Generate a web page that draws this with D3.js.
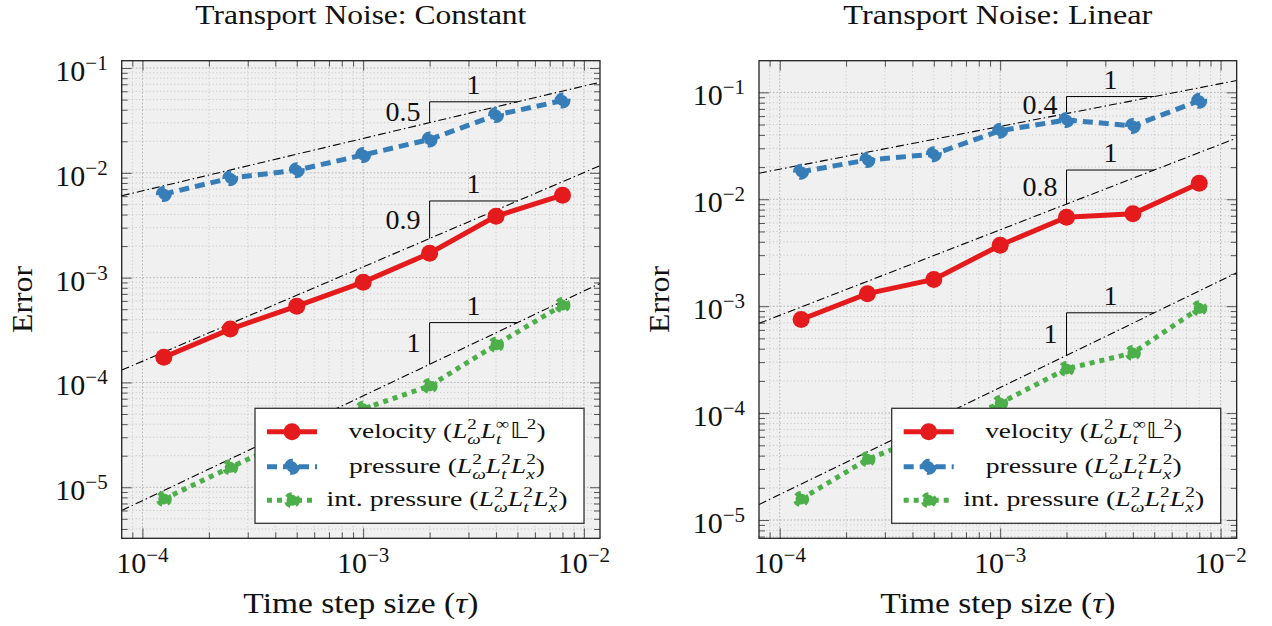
<!DOCTYPE html>
<html><head><meta charset="utf-8">
<script src="https://cdn.jsdelivr.net/npm/d3@7"></script>
<style>
body{margin:0;background:#fff}
svg text{font-family:"Liberation Serif","Times New Roman",serif;fill:#111}
</style>
</head><body>
<svg id="chart" width="1272" height="626" font-family="Liberation Serif"></svg>
<script>
// ---------- data ----------
const steps = [1.25e-4, 2.5e-4, 5e-4, 1e-3, 2e-3, 4e-3, 8e-3];
const titles = ["Transport Noise: Constant", "Transport Noise: Linear"];
const seriesNames = ["velocity", "pressure", "int. pressure"];
const constVelocity    = [1.74e-4, 3.23e-4, 5.34e-4, 9.06e-4, 1.71e-3, 3.86e-3, 6.12e-3];
const constPressure    = [6.27e-3, 8.9e-3, 1.06e-2, 1.48e-2, 2.08e-2, 3.56e-2, 4.89e-2];
const constIntPressure = [7.73e-6, 1.55e-5, 3.0e-5, 5.6e-5, 9.27e-5, 2.29e-4, 5.47e-4];
const linVelocity      = [7.51e-4, 1.31e-3, 1.78e-3, 3.72e-3, 6.8e-3, 7.31e-3, 1.41e-2];
const linPressure      = [1.81e-2, 2.33e-2, 2.64e-2, 4.38e-2, 5.52e-2, 4.85e-2, 8.35e-2];
const linIntPressure   = [1.57e-5, 3.7e-5, 6.5e-5, 1.24e-4, 2.59e-4, 3.65e-4, 9.55e-4];
// reference slopes: rate, value of the reference line at tau = 1e-3, label
const constRates = [0.5, 0.9, 1];
const constRefAt1e3 = [2.13e-2, 1.266e-3, 7.45e-5];
const constRateLabels = ["0.5", "0.9", "1"];
const linRates = [0.4, 0.8, 1];
const linRefAt1e3 = [4.8e-2, 5.18e-3, 1.734e-4];
const linRateLabels = ["0.4", "0.8", "1"];
const triangleX = [2e-3, 5e-3];
const xMajorExps = [-4, -3, -2];
const yMajorExps = [-5, -4, -3, -2, -1];
const xDomain = [Math.pow(10, -4.094), Math.pow(10, -1.927)];
const yDomainConst = [Math.pow(10, -5.487), Math.pow(10, -0.930)];
const yDomainLin = [Math.pow(10, -5.171), Math.pow(10, -0.704)];

// ---------- styles ----------
const colors = ["#e41a1c", "#377eb8", "#4daf4a"];
const dashes = [null, "10,6", "5,5"];
const legendTextLen = [197, 196, 241];

const svg = d3.select("#chart");

function writeMath(text, items, fs) {
  const sfs = fs * 0.7, up = fs * 0.4, down = fs * 0.26;
  let carry = 0; const fixes = []; let lastFix = null;
  items.forEach(it => {
    const main = text.append("tspan").text(it.t).attr("font-style", it.it ? "italic" : "normal");
    if (carry) main.attr("dy", carry);
    carry = 0;
    if (lastFix) { lastFix.next = main; lastFix = null; }
    if (it.sup !== undefined || it.sub !== undefined) {
      const f = {};
      if (it.sup !== undefined) {
        f.sup = text.append("tspan").attr("dy", -up).attr("font-size", sfs).attr("font-style", "normal").text(it.sup);
        carry = up;
      }
      if (it.sub !== undefined) {
        f.sub = text.append("tspan").attr("dy", (it.sup !== undefined ? up : 0) + down)
          .attr("font-size", sfs).attr("font-style", "italic").text(it.sub);
        carry = -down;
      }
      if (f.sup && f.sub) { fixes.push(f); lastFix = f; }
    }
  });
  fixes.forEach(f => {
    const ws = f.sup.node().getComputedTextLength(), wb = f.sub.node().getComputedTextLength();
    f.sub.attr("dx", -ws);
    if (f.next && ws > wb) f.next.attr("dx", ws - wb);
  });
}

function powLabel(sel, exp) {
  sel.append("tspan").text("10");
  sel.append("tspan").attr("dy", -11).attr("font-size", 21).text("\u2212" + Math.abs(exp));
}

function drawMarker(g, cx, cy, i) {
  if (i === 0) {
    g.append("circle").attr("cx", cx).attr("cy", cy).attr("r", 8.5).attr("fill", colors[0]);
  } else {
    g.append("circle").attr("cx", cx).attr("cy", cy).attr("r", 5.5)
      .attr("fill", colors[i]).attr("stroke", colors[i]).attr("stroke-width", 5)
      .attr("stroke-dasharray", dashes[i]);
  }
}

function drawPanel(opt) {
  const {x0, x1, y0, y1, yDomain, title, series, rates, refAt, rateLabels, id} = opt;
  const x = d3.scaleLog().domain(xDomain).range([x0, x1]);
  const y = d3.scaleLog().domain(yDomain).range([y1, y0]);
  const g = svg.append("g");

  g.append("clipPath").attr("id", "clip" + id).append("rect")
    .attr("x", x0).attr("y", y0).attr("width", x1 - x0).attr("height", y1 - y0);
  g.append("rect").attr("x", x0).attr("y", y0).attr("width", x1 - x0).attr("height", y1 - y0)
    .attr("fill", "#f0f0f0");

  const minorVals = (dom) => {
    const out = [];
    for (let k = -7; k <= 1; k++) for (let m = 2; m <= 9; m++) {
      const v = m * Math.pow(10, k);
      if (v > dom[0] && v < dom[1]) out.push(v);
    }
    return out;
  };
  const xMaj = xMajorExps.map(e => Math.pow(10, e));
  const yMaj = yMajorExps.map(e => Math.pow(10, e));
  const xMin = minorVals(xDomain), yMin = minorVals(yDomain);

  // grid
  const grid = g.append("g");
  xMin.forEach(v => grid.append("line").attr("x1", x(v)).attr("x2", x(v)).attr("y1", y0).attr("y2", y1)
    .attr("stroke", "#c4c4c4").attr("stroke-width", 1).attr("stroke-dasharray", "1,2.5"));
  yMin.forEach(v => grid.append("line").attr("y1", y(v)).attr("y2", y(v)).attr("x1", x0).attr("x2", x1)
    .attr("stroke", "#c4c4c4").attr("stroke-width", 1).attr("stroke-dasharray", "1,2.5"));
  xMaj.forEach(v => grid.append("line").attr("x1", x(v)).attr("x2", x(v)).attr("y1", y0).attr("y2", y1)
    .attr("stroke", "#b0b0b0").attr("stroke-width", 1).attr("stroke-dasharray", "1.5,2"));
  yMaj.forEach(v => grid.append("line").attr("y1", y(v)).attr("y2", y(v)).attr("x1", x0).attr("x2", x1)
    .attr("stroke", "#b0b0b0").attr("stroke-width", 1).attr("stroke-dasharray", "1.5,2"));

  // reference lines + slope triangles
  const ref = g.append("g").attr("clip-path", "url(#clip" + id + ")");
  rates.forEach((r, i) => {
    const f = t => refAt[i] * Math.pow(t / 1e-3, r);
    ref.append("line").attr("x1", x(xDomain[0])).attr("y1", y(f(xDomain[0])))
      .attr("x2", x(xDomain[1])).attr("y2", y(f(xDomain[1])))
      .attr("stroke", "#000").attr("stroke-width", 1.1).attr("stroke-dasharray", "8,3,1.5,3");
    const xa = x(triangleX[0]), xb = x(triangleX[1]);
    const ya = y(f(triangleX[0])), yb = y(f(triangleX[1]));
    g.append("path").attr("d", `M${xa},${ya}V${yb}H${xb}`).attr("fill", "none")
      .attr("stroke", "#000").attr("stroke-width", 1);
    g.append("text").attr("x", xa - 9).attr("y", (ya + yb) / 2 + 9).attr("text-anchor", "end")
      .attr("font-size", 28).text(rateLabels[i]);
    g.append("text").attr("x", (xa + xb) / 2).attr("y", yb - 8).attr("text-anchor", "middle")
      .attr("font-size", 28).text("1");
  });

  // series
  const line = d3.line().x(d => x(d[0])).y(d => y(d[1]));
  series.forEach((vals, i) => {
    const pts = steps.map((s, j) => [s, vals[j]]);
    const p = g.append("path").datum(pts).attr("d", line).attr("fill", "none")
      .attr("stroke", colors[i]).attr("stroke-width", 5);
    if (dashes[i]) p.attr("stroke-dasharray", dashes[i]);
    pts.forEach(d => drawMarker(g, x(d[0]), y(d[1]), i));
  });

  // legend
  const lg = g.append("g").attr("transform", `translate(${x1 - 345},${y1 - 130})`);
  lg.append("rect").attr("width", 329).attr("height", 115).attr("fill", "#fff")
    .attr("stroke", "#333").attr("stroke-width", 1.3);
  const rowsY = [23.5, 58.5, 92];
  const math = [
    [{t: seriesNames[0] + " ("}, {t: "L", it: true, sup: "2", sub: "\u03c9"}, {t: "L", it: true, sup: "\u221e", sub: "t"}, {t: "\ud835\udd43", sup: "2"}, {t: ")"}],
    [{t: seriesNames[1] + " ("}, {t: "L", it: true, sup: "2", sub: "\u03c9"}, {t: "L", it: true, sup: "2", sub: "t"}, {t: "L", it: true, sup: "2", sub: "x"}, {t: ")"}],
    [{t: seriesNames[2] + " ("}, {t: "L", it: true, sup: "2", sub: "\u03c9"}, {t: "L", it: true, sup: "2", sub: "t"}, {t: "L", it: true, sup: "2", sub: "x"}, {t: ")"}]
  ];
  rowsY.forEach((ry, i) => {
    const sl = lg.append("line").attr("x1", 12).attr("x2", 62).attr("y1", ry).attr("y2", ry)
      .attr("stroke", colors[i]).attr("stroke-width", 5);
    if (dashes[i]) sl.attr("stroke-dasharray", dashes[i]);
    drawMarker(lg, 37, ry, i);
    const t = lg.append("text").attr("x", 192).attr("y", ry + 6).attr("text-anchor", "middle")
      .attr("font-size", 22);
    writeMath(t, math[i], 22);
    t.attr("textLength", legendTextLen[i]).attr("lengthAdjust", "spacingAndGlyphs");
  });

  // ticks via d3 axes (inward)
  const tickStyle = sel => { sel.select(".domain").remove(); sel.selectAll("line").attr("stroke", "#555"); };
  const mk = (axis, vals, size, tx, ty) => g.append("g").attr("transform", `translate(${tx},${ty})`)
    .call(axis.tickValues(vals).tickSize(size).tickFormat(""))
    .call(tickStyle);
  mk(d3.axisBottom(x), xMaj, -10, 0, y1); mk(d3.axisBottom(x), xMin, -6, 0, y1);
  mk(d3.axisTop(x), xMaj, -10, 0, y0); mk(d3.axisTop(x), xMin, -6, 0, y0);
  mk(d3.axisLeft(y), yMaj, -10, x0, 0); mk(d3.axisLeft(y), yMin, -6, x0, 0);
  mk(d3.axisRight(y), yMaj, -10, x1, 0); mk(d3.axisRight(y), yMin, -6, x1, 0);

  // frame
  g.append("rect").attr("x", x0).attr("y", y0).attr("width", x1 - x0).attr("height", y1 - y0)
    .attr("fill", "none").attr("stroke", "#222").attr("stroke-width", 1.3);

  // tick labels
  xMajorExps.forEach(e => {
    const t = g.append("text").attr("x", x(Math.pow(10, e))).attr("y", y1 + 35)
      .attr("text-anchor", "middle").attr("font-size", 30);
    powLabel(t, e);
  });
  yMajorExps.forEach(e => {
    const t = g.append("text").attr("x", x0 - 14).attr("y", y(Math.pow(10, e)) + 13)
      .attr("text-anchor", "end").attr("font-size", 30);
    powLabel(t, e);
  });

  // titles and axis labels
  const cx = (x0 + x1) / 2;
  g.append("text").attr("x", cx).attr("y", 24).attr("text-anchor", "middle").attr("font-size", 28)
    .attr("textLength", opt.titleLen).attr("lengthAdjust", "spacingAndGlyphs").text(title);
  const xl = g.append("text").attr("x", cx).attr("y", 613).attr("text-anchor", "middle").attr("font-size", 30)
    .attr("textLength", 235).attr("lengthAdjust", "spacingAndGlyphs");
  xl.append("tspan").text("Time step size (");
  xl.append("tspan").attr("font-style", "italic").text("\u03c4");
  xl.append("tspan").text(")");
  g.append("text").attr("transform", `translate(${x0 - 90},${(y0 + y1) / 2}) rotate(-90)`)
    .attr("text-anchor", "middle").attr("font-size", 30)
    .attr("textLength", 67).attr("lengthAdjust", "spacingAndGlyphs").text("Error");
}

drawPanel({id: 0, x0: 121.7, x1: 600, y0: 60.7, y1: 538.3, yDomain: yDomainConst, title: titles[0], titleLen: 331,
  series: [constVelocity, constPressure, constIntPressure], rates: constRates, refAt: constRefAt1e3, rateLabels: constRateLabels});
drawPanel({id: 1, x0: 759, x1: 1236.7, y0: 60.7, y1: 538.3, yDomain: yDomainLin, title: titles[1], titleLen: 309,
  series: [linVelocity, linPressure, linIntPressure], rates: linRates, refAt: linRefAt1e3, rateLabels: linRateLabels});
</script>
</body></html>
